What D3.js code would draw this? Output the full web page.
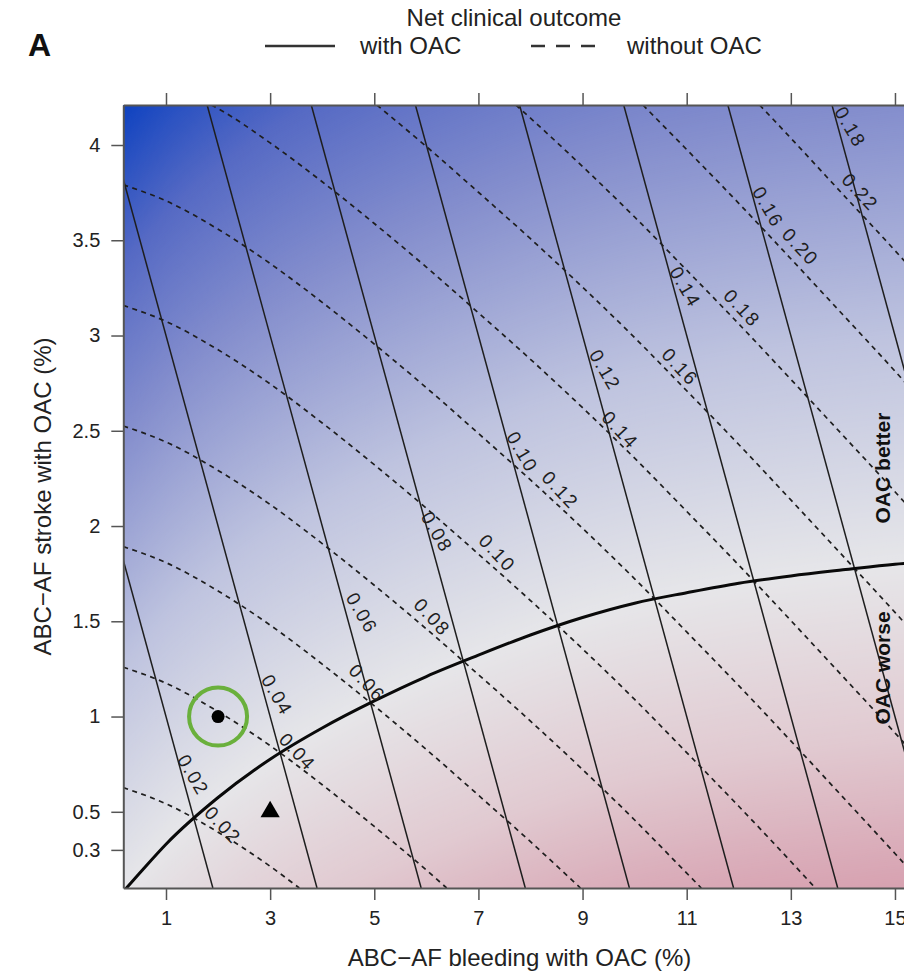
<!DOCTYPE html>
<html>
<head>
<meta charset="utf-8">
<script src="https://cdn.jsdelivr.net/npm/d3@7"></script>
<style>
  html, body { margin: 0; padding: 0; background: #ffffff; }
  svg { display: block; }
  text { font-family: "Liberation Sans", Arial, Helvetica, sans-serif; }
</style>
</head>
<body>
<svg id="chart" width="904" height="973"></svg>
<script>
// ---- data -----------------------------------------------------------------
// axis ticks
const xTicks = [1, 3, 5, 7, 9, 11, 13, 15];
const yTicks = [0.3, 0.5, 1, 1.5, 2, 2.5, 3, 3.5, 4];
const yTickLabels = ["0.3", "0.5", "1", "1.5", "2", "2.5", "3", "3.5", "4"];

// net clinical outcome with OAC: straight iso-lines, [bleeding %, stroke %]
const withLevels = ["0.02", "0.04", "0.06", "0.08", "0.10", "0.12", "0.14", "0.16", "0.18"];
const withLines = [
  [[0.18, 1.82], [1.90, 0.10]],
  [[0.18, 3.82], [3.90, 0.10]],
  [[1.79, 4.21], [5.90, 0.10]],
  [[3.79, 4.21], [7.90, 0.10]],
  [[5.79, 4.21], [9.90, 0.10]],
  [[7.79, 4.21], [11.90, 0.10]],
  [[9.79, 4.21], [13.90, 0.10]],
  [[11.79, 4.21], [15.90, 0.10]],
  [[13.79, 4.21], [17.90, 0.10]]
];
// label anchors for the with-OAC lines [bleeding %, stroke %]
const withLabelAt = [
  [1.52, 0.693], [3.13, 1.113], [4.76, 1.543], [6.20, 1.969], [7.84, 2.388],
  [9.43, 2.819], [10.97, 3.255], [12.56, 3.675], [14.14, 4.094]
];

// net clinical outcome without OAC: curved iso-lines, [bleeding %, stroke %]
const withoutLevels = ["0.02", "0.04", "0.06", "0.08", "0.10", "0.12", "0.14", "0.16", "0.18", "0.20", "0.22"];
const withoutLines = [
  [[0.18, 0.627], [1, 0.542], [2, 0.393], [3, 0.214], [3.56, 0.10]],
  [[0.18, 1.259], [1, 1.175], [2, 1.026], [3, 0.847], [4, 0.642], [5, 0.423], [6, 0.194], [6.39, 0.10]],
  [[0.18, 1.892], [1, 1.808], [2, 1.659], [3, 1.480], [4, 1.275], [5, 1.056], [6, 0.827], [7, 0.587], [8, 0.343], [8.96, 0.10]],
  [[0.18, 2.525], [1, 2.441], [2, 2.292], [3, 2.113], [4, 1.908], [5, 1.689], [6, 1.460], [7, 1.220], [8, 0.976], [9, 0.722], [10, 0.457], [11, 0.178], [11.28, 0.10]],
  [[0.18, 3.158], [1, 3.074], [2, 2.925], [3, 2.746], [4, 2.541], [5, 2.322], [6, 2.093], [7, 1.853], [8, 1.609], [9, 1.355], [10, 1.090], [11, 0.811], [12, 0.529], [13, 0.239], [13.47, 0.10]],
  [[0.18, 3.791], [1, 3.707], [2, 3.558], [3, 3.378], [4, 3.174], [5, 2.955], [6, 2.726], [7, 2.486], [8, 2.242], [9, 1.988], [10, 1.723], [11, 1.444], [12, 1.162], [13, 0.872], [14, 0.577], [15, 0.281], [15.5, 0.130]],
  [[1.87, 4.21], [2, 4.191], [3, 4.011], [4, 3.807], [5, 3.588], [6, 3.359], [7, 3.119], [8, 2.875], [9, 2.621], [10, 2.356], [11, 2.077], [12, 1.795], [13, 1.504], [14, 1.210], [15, 0.914], [15.5, 0.763]],
  [[5.05, 4.21], [6, 3.992], [7, 3.752], [8, 3.508], [9, 3.254], [10, 2.989], [11, 2.710], [12, 2.428], [13, 2.137], [14, 1.843], [15, 1.547], [15.5, 1.396]],
  [[7.72, 4.21], [8, 4.141], [9, 3.887], [10, 3.622], [11, 3.343], [12, 3.061], [13, 2.770], [14, 2.476], [15, 2.180], [15.5, 2.028]],
  [[10.16, 4.21], [11, 3.976], [12, 3.694], [13, 3.403], [14, 3.109], [15, 2.813], [15.5, 2.661]],
  [[12.40, 4.21], [13, 4.036], [14, 3.741], [15, 3.446], [15.5, 3.294]]
];
// label anchors for the without-OAC lines [bleeding %, stroke %]
const withoutLabelAt = [
  [2.09, 0.430], [3.52, 0.814], [4.86, 1.176], [6.11, 1.522], [7.36, 1.858],
  [8.57, 2.189], [9.72, 2.504], [10.87, 2.835], [12.06, 3.144], [13.18, 3.465], [14.33, 3.753]
];

// equal net clinical outcome (OAC better above, OAC worse below)
const boundary = [
  [0.15, 0.072], [0.5, 0.18], [1, 0.33], [2, 0.575], [3, 0.776], [4, 0.94], [5, 1.082],
  [6, 1.21], [7, 1.322], [8, 1.428], [9, 1.52], [10, 1.595], [11, 1.65], [12, 1.70],
  [13, 1.738], [14, 1.77], [15, 1.80], [15.5, 1.81]
];

// example patients [bleeding %, stroke %]
const circlePatient = [[2, 1.0]];
const trianglePatient = [[3, 0.5]];

// ---- layout ---------------------------------------------------------------
const svg = d3.select("#chart");
const plot = { left: 123.3, right: 915.8, top: 105, bottom: 888 };

const x = d3.scaleLinear().domain([0.18, 15.4]).range([plot.left, plot.right]);
const y = d3.scaleLinear().domain([0.1, 4.21]).range([plot.bottom, plot.top]);

svg.append("defs").append("clipPath").attr("id", "plotClip")
  .append("rect")
  .attr("x", plot.left).attr("y", plot.top)
  .attr("width", plot.right - plot.left).attr("height", plot.bottom - plot.top);

const inner = svg.append("g").attr("clip-path", "url(#plotClip)");

// background: colour by vertical distance (stroke %) from the equal-outcome curve
const bandStep = 0.01;
const bandOffsets = d3.range(-1.9, 4.25, bandStep);
const bandColor = d3.scaleLinear()
  .domain([-1.71, -0.9, 0, 1.2, 2.4, 3.3, 4.13])
  .range([
    "rgb(215,161,176)", "rgb(225,202,209)", "rgb(230,230,233)",
    "rgb(190,195,223)", "rgb(132,142,205)", "rgb(86,106,196)", "rgb(14,66,192)"
  ])
  .clamp(true);

const bandLayer = inner.append("g");
bandOffsets.forEach(off => {
  const area = d3.area()
    .curve(d3.curveMonotoneX)
    .x(p => x(p[0]))
    .y0(p => y(p[1] + off))
    .y1(p => y(p[1] + off + bandStep * 1.8));
  bandLayer.append("path")
    .attr("d", area(boundary))
    .attr("fill", bandColor(off + bandStep / 2));
});

// contour lines
const lineGen = d3.line().curve(d3.curveMonotoneX).x(p => x(p[0])).y(p => y(p[1]));

inner.append("g").selectAll("path")
  .data(withoutLines)
  .join("path")
  .attr("d", lineGen)
  .attr("fill", "none")
  .attr("stroke", "#1e1e1e")
  .attr("stroke-width", 1.7)
  .attr("stroke-dasharray", "5,4.5");

inner.append("g").selectAll("path")
  .data(withLines)
  .join("path")
  .attr("d", d3.line().x(p => x(p[0])).y(p => y(p[1])))
  .attr("fill", "none")
  .attr("stroke", "#1e1e1e")
  .attr("stroke-width", 1.5);

inner.append("path")
  .attr("d", lineGen(boundary))
  .attr("fill", "none")
  .attr("stroke", "#0a0a0a")
  .attr("stroke-width", 3);

// contour labels
const labelLayer = inner.append("g")
  .style("font-size", "19px")
  .style("letter-spacing", "1.6px")
  .attr("fill", "#1e1e1e");

labelLayer.selectAll("text.with")
  .data(withLevels)
  .join("text")
  .attr("class", "with")
  .attr("text-anchor", "middle")
  .attr("dominant-baseline", "central")
  .attr("transform", (d, i) => `translate(${x(withLabelAt[i][0])},${y(withLabelAt[i][1])}) rotate(60)`)
  .text(d => d);

labelLayer.selectAll("text.without")
  .data(withoutLevels)
  .join("text")
  .attr("class", "without")
  .attr("text-anchor", "middle")
  .attr("dominant-baseline", "central")
  .attr("transform", (d, i) => `translate(${x(withoutLabelAt[i][0])},${y(withoutLabelAt[i][1])}) rotate(47)`)
  .text(d => d);

// region captions
const caption = inner.append("g")
  .style("font-size", "21px")
  .attr("font-weight", "bold")
  .attr("fill", "#111");
caption.append("text")
  .attr("text-anchor", "middle")
  .attr("transform", "translate(890,468) rotate(-90)")
  .text("OAC better");
caption.append("text")
  .attr("text-anchor", "middle")
  .attr("transform", "translate(890,668) rotate(-90)")
  .text("OAC worse");

// example patients
inner.append("g").selectAll("circle")
  .data(circlePatient)
  .join("circle")
  .attr("cx", p => x(p[0])).attr("cy", p => y(p[1]))
  .attr("r", 6.5).attr("fill", "#000");

inner.append("g").selectAll("path")
  .data(trianglePatient)
  .join("path")
  .attr("transform", p => `translate(${x(p[0])},${y(p[1])})`)
  .attr("d", d3.symbol(d3.symbolTriangle, 160))
  .attr("fill", "#000");

svg.append("g").selectAll("circle")
  .data(circlePatient)
  .join("circle")
  .attr("cx", p => x(p[0])).attr("cy", p => y(p[1]))
  .attr("r", 29)
  .attr("fill", "none")
  .attr("stroke", "rgb(106,176,60)")
  .attr("stroke-width", 4);

// ---- axes -----------------------------------------------------------------
const axisColor = "#555";

function styleAxis(g) {
  g.select(".domain").attr("stroke", axisColor).attr("stroke-width", 2);
  g.selectAll(".tick line").attr("stroke", axisColor).attr("stroke-width", 1.5);
  g.selectAll(".tick text")
    .attr("fill", "#222")
    .attr("font-size", 20)
    .attr("font-family", '"Liberation Sans", Arial, Helvetica, sans-serif');
}

svg.append("g")
  .attr("transform", `translate(0,${plot.bottom})`)
  .call(d3.axisBottom(x).tickValues(xTicks).tickSize(12).tickSizeOuter(0).tickPadding(11).tickFormat(d3.format("d")))
  .call(styleAxis);

svg.append("g")
  .attr("transform", `translate(0,${plot.top})`)
  .call(d3.axisTop(x).tickValues(xTicks).tickSize(12).tickSizeOuter(0).tickFormat(""))
  .call(styleAxis);

svg.append("g")
  .attr("transform", `translate(${plot.left},0)`)
  .call(d3.axisLeft(y).tickValues(yTicks).tickSize(12).tickSizeOuter(0).tickPadding(11)
    .tickFormat((d, i) => yTickLabels[i]))
  .call(styleAxis);

// ---- titles and legend ----------------------------------------------------
svg.append("text")
  .attr("x", (plot.left + plot.right) / 2).attr("y", 966)
  .attr("text-anchor", "middle")
  .attr("font-size", 24).attr("fill", "#222")
  .text("ABC\u2212AF bleeding with OAC (%)");

svg.append("text")
  .attr("text-anchor", "middle")
  .attr("transform", `translate(51,${(plot.top + plot.bottom) / 2}) rotate(-90)`)
  .attr("font-size", 24).attr("fill", "#222")
  .text("ABC\u2212AF stroke with OAC (%)");

svg.append("text")
  .attr("x", 28).attr("y", 56)
  .attr("font-size", 32).attr("font-weight", "bold").attr("fill", "#111")
  .text("A");

const legend = svg.append("g").attr("font-size", 24).attr("fill", "#222");
legend.append("text")
  .attr("x", 514).attr("y", 26).attr("text-anchor", "middle")
  .text("Net clinical outcome");
legend.append("line")
  .attr("x1", 265).attr("x2", 335).attr("y1", 46).attr("y2", 46)
  .attr("stroke", "#333").attr("stroke-width", 2.5);
legend.append("text").attr("x", 360).attr("y", 54).text("with OAC");
legend.append("line")
  .attr("x1", 531).attr("x2", 595).attr("y1", 46).attr("y2", 46)
  .attr("stroke", "#333").attr("stroke-width", 2.5)
  .attr("stroke-dasharray", "14,11");
legend.append("text").attr("x", 627).attr("y", 54).text("without OAC");
</script>
</body>
</html>
